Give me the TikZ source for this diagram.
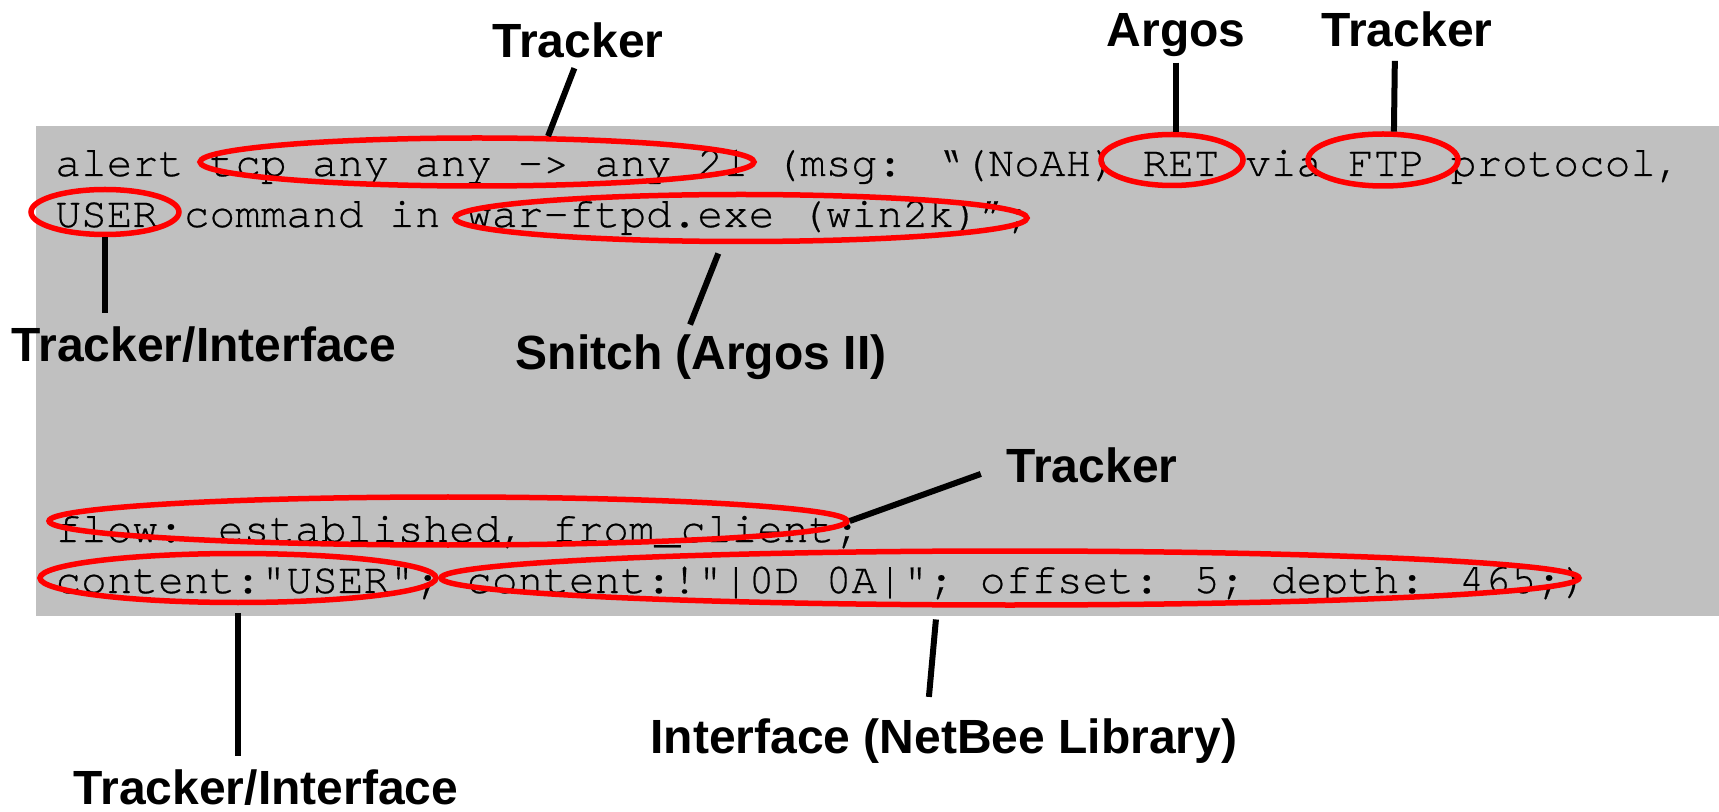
\documentclass[tikz,border=0pt]{standalone}
\usepackage{fontspec}
\setmainfont{Liberation Sans}
\newfontfamily\codefont[Ligatures={NoCommon},FakeBold=0.5]{TeX Gyre Cursor}
\usepackage{tikz}
\usetikzlibrary{shapes}
\definecolor{codegray}{RGB}{192,192,192}
\tikzstyle{ring}=[draw=red,ellipse,line width=2.75pt,inner sep=0pt]
\tikzstyle{stick}=[black,line width=3pt]
\tikzstyle{tag}=[anchor=base,inner sep=0pt,font=\fontsize{24}{28}\selectfont\bfseries]
\tikzstyle{code}=[anchor=base west,inner sep=0pt,font=\fontsize{21.4}{25}\selectfont\codefont]

\begin{document}
\begin{tikzpicture}[x=0.5pt,y=-0.5pt]
      \useasboundingbox (0,0) rectangle (1719,812);
      \fill[codegray] (36,126) rectangle (1719,616);

      \node[code] (ln1) at (55,176) {alert tcp any any -> any 21 (msg: “(NoAH) RET via FTP protocol,};
      \node[code] (ln2) at (55,227) {USER command in war-ftpd.exe (win2k)”;};
      \node[code] (ln3) at (55,542) {flow: established, from\_client;};
      \node[code] (ln4) at (55,593) {content:"USER"; content:!"|0D 0A|"; offset: 5; depth: 465;)};

      \node[ring,minimum width=277pt,minimum height=24pt] (e1) at (477,162) {};
      \node[ring,minimum width=71pt,minimum height=25.5pt] (e2) at (1172,160) {};
      \node[ring,minimum width=75pt,minimum height=26pt] (e3) at (1383,160) {};
      \node[ring,minimum width=74pt,minimum height=22.5pt] (e4) at (105,212) {};
      \node[ring,minimum width=286pt,minimum height=23.5pt] (e5) at (741,218) {};
      \node[ring,minimum width=399pt,minimum height=24pt] (e6) at (448,521) {};
      \node[ring,minimum width=198pt,minimum height=24.5pt] (e7) at (238,578) {};
      \node[ring,minimum width=569pt,minimum height=27pt] (e8) at (1010,578) {};

      \node[tag] (trkA) at (578,58) {Tracker};
      \node[tag] (argos) at (1176,47) {Argos};
      \node[tag] (trkB) at (1407,47) {Tracker};
      \node[tag] (trkif) at (204,362) {Tracker/Interface};
      \node[tag] (snitch) at (701,370) {Snitch (Argos II)};
      \node[tag] (trkC) at (1092,482) {Tracker};
      \node[tag] (netbee) at (944,753) {Interface (NetBee Library)};
      \node[tag] (trkifB) at (266,804) {Tracker/Interface};

      \draw[stick,shorten <=5pt] (trkA.south) -- (e1.20);
      \draw[stick,shorten <=2.5pt] (argos.south) -- (argos.south |- e2.north);
      \draw[stick,shorten <=6.5pt] ([xshift=-6pt]trkB.south) -- (e3.69);
      \draw[stick,shorten >=7pt] (e4.south) -- (e4.south |- trkif.north);
      \draw[stick,shorten <=5pt,shorten >=5.5pt] (e5.234) -- ([xshift=-7.5pt]snitch.north);
      \draw[stick,shorten >=13.5pt] (e6.east) -- (trkC.west);
      \draw[stick,shorten <=4pt,shorten >=6.5pt] (e7.south) -- (e7.south |- trkifB.north);
      \draw[stick,shorten <=6pt,shorten >=10.5pt] (e8.202) -- ([xshift=-8.5pt]netbee.north);
    \end{tikzpicture}
\end{document}
